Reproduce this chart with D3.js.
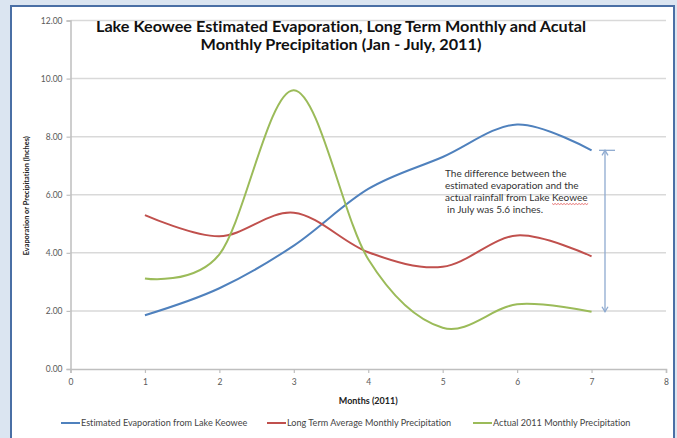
<!DOCTYPE html>
<html>
<head>
<meta charset="utf-8">
<script src="https://cdn.jsdelivr.net/npm/d3@7"></script>
<style>
  html, body { margin: 0; padding: 0; background: #dbe5f1; }
  svg { display: block; font-family: Lato, "Open Sans", sans-serif; font-variant-ligatures: none; }
</style>
</head>
<body>
<svg id="chart" width="677" height="438"></svg>
<script>
// Monthly values, inches
const months = [1, 2, 3, 4, 5, 6, 7];
const evaporation = [1.85, 2.78, 4.25, 6.2, 7.3, 8.42, 7.53];
const longTermPrecip = [5.3, 4.57, 5.38, 4.02, 3.52, 4.6, 3.88];
const actualPrecip = [3.12, 3.95, 9.6, 3.78, 1.42, 2.23, 1.97];

const seriesNames = [
  "Estimated Evaporation from Lake Keowee",
  "Long Term Average Monthly Precipitation",
  "Actual 2011 Monthly Precipitation"
];
const seriesColors = ["#4f81bd", "#c0504d", "#9bbb59"];
const xTicks = [0, 1, 2, 3, 4, 5, 6, 7, 8];
const yTicks = [0, 2, 4, 6, 8, 10, 12];
const titleLines = [
  "Lake Keowee Estimated Evaporation, Long Term Monthly and Acutal",
  "Monthly Precipitation (Jan - July, 2011)"
];
const noteLines = [
  "The difference between the",
  "estimated evaporation and the",
  "actual rainfall from Lake Keowee",
  "in July was 5.6 inches."
];

const svg = d3.select("#chart");

// Chart panel with dark blue frame
svg.append("rect")
  .attr("x", 11).attr("y", 6).attr("width", 663).attr("height", 440)
  .attr("fill", "#ffffff").attr("stroke", "#4a6fa5").attr("stroke-width", 2);

const x = d3.scaleLinear().domain([0, 8]).range([70.5, 666]);
const y = d3.scaleLinear().domain([0, 12]).range([369, 20.5]);

// Horizontal gridlines
svg.append("g").selectAll("line").data(yTicks.filter(d => d > 0)).join("line")
  .attr("x1", x(0)).attr("x2", x(8))
  .attr("y1", d => y(d)).attr("y2", d => y(d))
  .attr("stroke", "#d9d9d9").attr("stroke-width", 1.5);

// Axes
const yAxis = svg.append("g").attr("transform", `translate(${x(0)},0)`)
  .call(d3.axisLeft(y).tickValues(yTicks).tickFormat(d3.format(".2f")).tickSize(4).tickPadding(4));
const xAxis = svg.append("g").attr("transform", `translate(0,${y(0)})`)
  .call(d3.axisBottom(x).tickValues(xTicks).tickFormat(d3.format("d")).tickSize(4).tickPadding(6));
[yAxis, xAxis].forEach(g => {
  g.select(".domain").attr("stroke", "#bfbfbf").attr("stroke-width", 1.5);
  g.selectAll(".tick line").attr("stroke", "#bfbfbf").attr("stroke-width", 1.2);
  g.selectAll(".tick text").attr("fill", "#595959").style("font-size", "8.5px")
    .style("font-family", "Lato, 'Open Sans', sans-serif");
});

// Series lines (smoothed)
const line = d3.line()
  .x((d, i) => x(months[i]))
  .y(d => y(d))
  .curve(d3.curveCardinal.tension(0));
[evaporation, longTermPrecip, actualPrecip].forEach((vals, i) => {
  svg.append("path").datum(vals)
    .attr("d", line)
    .attr("fill", "none")
    .attr("stroke", seriesColors[i])
    .attr("stroke-width", 2)
    .attr("stroke-linejoin", "round");
});

// Title (slightly widened lettering)
svg.append("text")
  .attr("transform", "translate(341,0) scale(1.12,1)")
  .attr("text-anchor", "middle")
  .style("font-size", "14.5px").style("font-weight", "bold").attr("fill", "#111")
  .selectAll("tspan").data(titleLines).join("tspan")
  .attr("x", 0).attr("y", (d, i) => 32 + i * 18.5)
  .text(d => d);

// Axis titles
svg.append("text")
  .attr("transform", `translate(29,${(y(0) + y(12)) / 2 + 1}) rotate(-90)`)
  .attr("text-anchor", "middle")
  .style("font-size", "7.4px").style("font-weight", "bold").attr("fill", "#222")
  .text("Evaporation or Precipitation (Inches)");
svg.append("text")
  .attr("x", (x(0) + x(8)) / 2).attr("y", 404)
  .attr("text-anchor", "middle")
  .style("font-size", "9px").style("font-weight", "bold").attr("fill", "#222")
  .text("Months (2011)");

// Difference marker between July evaporation and July rainfall
const julyIdx = months.indexOf(7);
const arrowX = 605;
const yTop = y(evaporation[julyIdx]);
const yBot = y(actualPrecip[julyIdx]);
const arrowColor = "#8eaad0";
svg.append("line")
  .attr("x1", arrowX).attr("x2", arrowX).attr("y1", yTop).attr("y2", yBot)
  .attr("stroke", arrowColor).attr("stroke-width", 1.3);
svg.append("line")
  .attr("x1", arrowX - 6).attr("x2", arrowX + 10).attr("y1", yTop).attr("y2", yTop)
  .attr("stroke", arrowColor).attr("stroke-width", 1.3);
svg.append("path")
  .attr("d", `M${arrowX - 3},${yTop + 5}L${arrowX},${yTop}L${arrowX + 3},${yTop + 5}`)
  .attr("fill", "none").attr("stroke", arrowColor).attr("stroke-width", 1.3);
svg.append("path")
  .attr("d", `M${arrowX - 3},${yBot - 5}L${arrowX},${yBot}L${arrowX + 3},${yBot - 5}`)
  .attr("fill", "none").attr("stroke", arrowColor).attr("stroke-width", 1.3);

// Annotation text
const noteY0 = 177, noteStep = 12;
const note = svg.append("text")
  .style("font-size", "10px").attr("fill", "#333");
note.selectAll("tspan").data(noteLines).join("tspan")
  .attr("x", (d, i) => i === 3 ? 447 : 445)
  .attr("y", (d, i) => noteY0 + i * noteStep)
  .text(d => d);

// Spell-check squiggle under "Keowee"
const kLine = note.selectAll("tspan").nodes()[2];
const full = noteLines[2];
const start = full.indexOf("Keowee");
const x0 = 445 + kLine.getSubStringLength(0, start);
const w = kLine.getSubStringLength(start, 6);
const sy = noteY0 + 2 * noteStep + 2.5;
let squig = `M${x0},${sy}`;
for (let k = 0, px = x0; px < x0 + w; k++) {
  px += 1.5;
  squig += `L${px},${sy + (k % 2 === 0 ? 1 : 0)}`;
}
svg.append("path").attr("d", squig).attr("fill", "none")
  .attr("stroke", "#e05050").attr("stroke-width", 0.8);

// Legend
const legendItems = [
  { lx: 61, tx: 81 },
  { lx: 267, tx: 287 },
  { lx: 473, tx: 493 }
];
const lg = svg.append("g");
legendItems.forEach((p, i) => {
  lg.append("line")
    .attr("x1", p.lx).attr("x2", p.tx - 1).attr("y1", 423).attr("y2", 423)
    .attr("stroke", seriesColors[i]).attr("stroke-width", 2);
  lg.append("text")
    .attr("x", p.tx).attr("y", 426)
    .style("font-size", "9.1px").attr("fill", "#444")
    .text(seriesNames[i]);
});
</script>
</body>
</html>
